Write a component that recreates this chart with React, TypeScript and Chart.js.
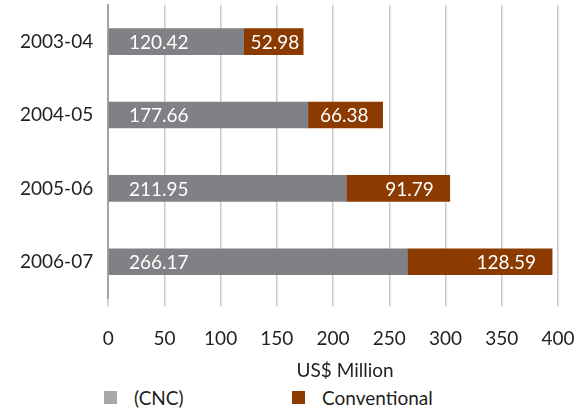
import React, { useEffect, useRef } from "react";
import { Chart, registerables } from "chart.js";

Chart.register(...registerables);

const categories = ["2003-04", "2004-05", "2005-06", "2006-07"];
const cncValues = [120.42, 177.66, 211.95, 266.17];
const conventionalValues = [52.98, 66.38, 91.79, 128.59];
const seriesNames = ["(CNC)", "Conventional"];
const xMin = 0;
const xMax = 400;
const xStep = 50;
const axisTitle = "US$ Million";

const GRAY = "#808184";
const GRAY_LEGEND = "#a7a8ab";
const BROWN = "#8b3a00";
const TEXT = "#231f20";
const FONT = "Lato, 'Open Sans', sans-serif";
const FONT_SIZE = 19;
const TITLE_SHIFT = 12;

const labelPlugin = {
  id: "barLabels",
  afterDatasetsDraw(chart: any) {
    const ctx = chart.ctx;
    ctx.save();
    ctx.font = `${FONT_SIZE}px ${FONT}`;
    ctx.fillStyle = "#ffffff";
    ctx.textBaseline = "middle";
    chart.data.datasets.forEach((ds: any, di: number) => {
      const meta = chart.getDatasetMeta(di);
      meta.data.forEach((el: any, i: number) => {
        const v = ds.data[i];
        const txt = v.toFixed(2);
        const tw = ctx.measureText(txt).width;
        const start = Math.min(el.base, el.x);
        const end = Math.max(el.base, el.x);
        const w = end - start;
        if (di === 0) {
          ctx.textAlign = "left";
          ctx.fillText(txt, start + 20, el.y + 1);
        } else {
          const pad = Math.min(16, Math.max(4, w - tw - 12));
          ctx.textAlign = "right";
          ctx.fillText(txt, end - pad, el.y + 1);
        }
      });
    });
    ctx.restore();
  },
};

export default function App() {
  const ref = useRef<HTMLCanvasElement>(null);

  useEffect(() => {
    document.body.style.margin = "0";
    document.documentElement.style.overflow = "hidden";
    const canvas = ref.current;
    if (!canvas) return;
    const chart = new Chart(canvas, {
      type: "bar",
      data: {
        labels: categories,
        datasets: [
          {
            label: seriesNames[0],
            data: cncValues,
            backgroundColor: GRAY,
            barThickness: 26,
          },
          {
            label: seriesNames[1],
            data: conventionalValues,
            backgroundColor: BROWN,
            barThickness: 26,
          },
        ],
      },
      options: {
        indexAxis: "y",
        responsive: false,
        devicePixelRatio: 1,
        animation: false,
        layout: { padding: { top: 5, right: 19, left: 20, bottom: 4 } },
        scales: {
          x: {
            stacked: true,
            min: xMin,
            max: xMax,
            afterFit: (s: any) => {
              s.paddingLeft = 0;
              s.paddingRight = 0;
              s.height = s.height - s.options.ticks.padding;
            },
            afterUpdate: (s: any) => {
              if (!s._titlePatched) {
                const orig = s.drawTitle;
                s.drawTitle = function () {
                  this.ctx.save();
                  this.ctx.translate(TITLE_SHIFT, 0);
                  orig.call(this);
                  this.ctx.restore();
                };
                s._titlePatched = true;
              }
            },
            ticks: {
              stepSize: xStep,
              color: TEXT,
              font: { family: FONT, size: FONT_SIZE },
              padding: 21,
            },
            grid: {
              color: "#c9c9c9",
              lineWidth: 1.5,
              tickLength: 8,
              drawTicks: true,
            },
            border: { display: false },
            title: {
              display: true,
              text: axisTitle,
              color: TEXT,
              font: { family: FONT, size: FONT_SIZE },
              padding: { top: 9, bottom: -3 },
            },
          },
          y: {
            stacked: true,
            afterFit: (s: any) => {
              s.paddingTop = 0;
              s.paddingBottom = 0;
            },
            grid: { display: false, drawTicks: true, tickLength: 15 },
            border: { display: true, color: "#a3a3a3", width: 2 },
            ticks: {
              color: TEXT,
              font: { family: FONT, size: FONT_SIZE },
              padding: 0,
            },
          },
        },
        plugins: {
          legend: { display: false },
          tooltip: { enabled: false },
        },
      },
      plugins: [labelPlugin],
    });
    return () => chart.destroy();
  }, []);

  const legendItem = (left: number, color: string, text: string) => (
    <div
      style={{
        position: "absolute",
        left,
        top: 0,
        height: 28,
        display: "flex",
        alignItems: "center",
        fontFamily: FONT,
        fontSize: FONT_SIZE,
        color: TEXT,
      }}
    >
      <span
        style={{
          display: "inline-block",
          width: 13,
          height: 13,
          background: color,
          marginRight: 17,
        }}
      />
      <span>{text}</span>
    </div>
  );

  return (
    <div style={{ width: 577, height: 411, position: "relative" }}>
      <canvas ref={ref} width={577} height={383} style={{ display: "block" }} />
      <div style={{ position: "relative", height: 28 }}>
        {legendItem(104, GRAY_LEGEND, seriesNames[0])}
        {legendItem(292, BROWN, seriesNames[1])}
      </div>
    </div>
  );
}
